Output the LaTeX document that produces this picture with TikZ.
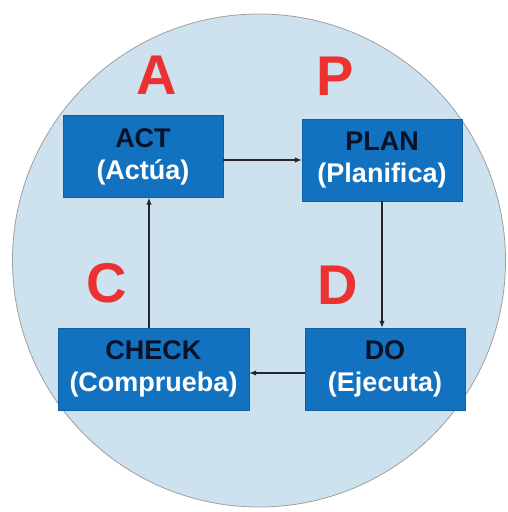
\documentclass[tikz,border=0pt]{standalone}
\usepackage{fontspec}
\setmainfont{Liberation Sans}
\usepackage{xcolor}
\usetikzlibrary{arrows.meta,positioning}
\definecolor{azulcaja}{RGB}{18,114,192}
\definecolor{azulfondo}{RGB}{206,225,239}
\definecolor{rojoletra}{RGB}{236,50,48}
\definecolor{textocaja}{RGB}{10,18,40}
\tikzset{
  caja/.style={rectangle,fill=azulcaja,draw=azulcaja!85!black,line width=0.4pt,
    minimum width=160pt,minimum height=82pt,inner sep=0pt,align=center,
    text=textocaja,font=\fontsize{27}{32}\selectfont\bfseries},
  letra/.style={text=rojoletra,font=\fontsize{56}{56}\selectfont\bfseries,inner sep=0pt},
  flujo/.style={-{Latex[length=7pt,width=5.5pt]},line width=1.1pt,draw=black!85}
}

\begin{document}
\begin{tikzpicture}[x=1pt,y=-1pt]
\useasboundingbox (0,0) rectangle (508,512);

% circulo de fondo
\node[circle,fill=azulfondo,draw=gray!75,line width=0.8pt,
  minimum size=493pt,inner sep=0pt] (fondo) at (259,260.5) {};

% etapas del ciclo
\node[caja] (act) at (143,156.5) {ACT\\\textcolor{white}{(Actúa)}};
\node[caja] (plan) at (382,160) {PLAN\\\textcolor{white}{(Planifica)}};
\node[caja,minimum width=191pt] (check) at (153.5,369) {CHECK\\\textcolor{white}{(Comprueba)}};
\node[caja] (do) at (385,369) {DO\\\textcolor{white}{(Ejecuta)}};

% letras PDCA
\node[letra] (la) at (157,75) {A};
\node[letra] (lp) at (335,76) {P};
\node[letra] (lc) at (107,283) {C};
\node[letra] (ld) at (338,285) {D};

% flechas del ciclo
\draw[flujo] (act.east |- plan) -- (plan.west);
\draw[flujo] (plan.south) -- (plan.south |- do.north);
\draw[flujo] ([yshift=-4pt]do.west) -- ([yshift=-4pt]do.west -| check.east);
\draw[flujo] ([xshift=-4.5pt]check.north) -- ([xshift=-4.5pt]check.north |- act.south);

\end{tikzpicture}
\end{document}
